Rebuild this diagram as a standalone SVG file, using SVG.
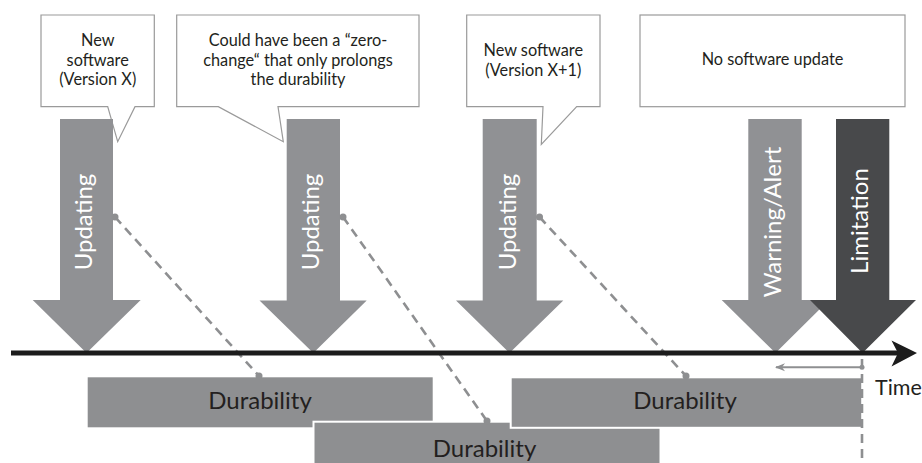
<svg xmlns="http://www.w3.org/2000/svg" width="922" height="463" viewBox="0 0 922 463">
<defs>
<style>
.callout{fill:#fff;stroke:#9a9a9a;stroke-width:1.2}
.ctext{font-family:Lato,"Open Sans",sans-serif;font-size:16.3px;fill:#231f20;text-anchor:middle}
.arrow{fill:#909194}
.dark{fill:#48494b}
.alabel{font-family:Lato,"Open Sans",sans-serif;font-size:24px;fill:#fff;text-anchor:middle}
.dur{fill:#8e8f91}
.dur2{fill:#8e8f91;stroke:#fff;stroke-width:2}
.dtext{font-family:Lato,"Open Sans",sans-serif;font-size:24px;fill:#231f20;text-anchor:middle}
.dash{fill:none;stroke:#8e8f91;stroke-width:2.6;stroke-dasharray:9 6}
.dot{fill:#8e8f91}
</style>
<marker id="lefthead" viewBox="0 0 10 10" refX="9" refY="5" markerWidth="10" markerHeight="10" markerUnits="userSpaceOnUse" orient="auto">
<path d="M0,1 L10,5 L0,9 L3,5 Z" fill="#8e8f91"/>
</marker>
</defs>

<g id="callout1">
<path class="callout" d="M41,15 H154.3 V106.7 H135 L117.7,141.7 L107.7,106.7 H41 Z"/>
<text class="ctext" x="97.7" y="46.3">New</text>
<text class="ctext" x="97.7" y="65.8">software</text>
<text class="ctext" x="97.7" y="85.3">(Version X)</text>
</g>
<g id="callout2">
<path class="callout" d="M176.7,15 H419 V106.7 H278 L283.3,141.7 L218.3,106.7 H176.7 Z"/>
<text class="ctext" x="298" y="46.3">Could have been a “zero-</text>
<text class="ctext" x="298" y="65.8">change“ that only prolongs</text>
<text class="ctext" x="298" y="85.3">the durability</text>
</g>
<g id="callout3">
<path class="callout" d="M466.7,15 H600 V106.7 H576.7 L541.3,144.5 L543,106.7 H466.7 Z"/>
<text class="ctext" x="533.3" y="56.3">New software</text>
<text class="ctext" x="533.3" y="75.8">(Version X+1)</text>
</g>
<g id="callout4">
<rect class="callout" x="640" y="15" width="265" height="91.7"/>
<text class="ctext" x="772.5" y="65">No software update</text>
</g>

<g id="durability1">
<rect class="dur" x="87.7" y="377.3" width="345" height="50"/>
<text class="dtext" x="260" y="409.3">Durability</text>
</g>
<g id="durability2">
<rect class="dur2" x="313.5" y="421.7" width="347" height="45"/>
<text class="dtext" x="484.5" y="456.5">Durability</text>
</g>
<g id="durability3">
<rect class="dur2" x="510.7" y="377.3" width="351.5" height="50.5"/>
<text class="dtext" x="685" y="409.3">Durability</text>
</g>

<g id="update1">
<path class="arrow" d="M60,119 H113 V300 H140.7 L86.5,353 L32.7,300 H60 Z"/>
<text class="alabel" transform="translate(92,222) rotate(-90)">Updating</text>
</g>
<g id="update2">
<path class="arrow" d="M286.7,119 H340 V300.5 H366.7 L313.3,353 L259.5,300.5 H286.7 Z"/>
<text class="alabel" transform="translate(319,222) rotate(-90)">Updating</text>
</g>
<g id="update3">
<path class="arrow" d="M482.7,119 H536.7 V300.5 H563.3 L509.5,353 L456,300.5 H482.7 Z"/>
<text class="alabel" transform="translate(515.5,222) rotate(-90)">Updating</text>
</g>
<g id="warning">
<path class="arrow" d="M748.3,119 H801.7 V300 H829 L775.5,353 L721.7,300 H748.3 Z"/>
<text class="alabel" transform="translate(781,222) rotate(-90)">Warning/Alert</text>
</g>
<g id="limitation">
<path class="dark" d="M836,119 H889.3 V300 H916 L862.5,353 L810,300 H836 Z"/>
<text class="alabel" transform="translate(868.3,221) rotate(-90)">Limitation</text>
</g>

<g id="connectors">
<line class="dash" x1="115" y1="217" x2="259" y2="376"/>
<circle class="dot" cx="115" cy="217" r="3.5"/>
<circle class="dot" cx="259" cy="376" r="3.5"/>
<line class="dash" x1="343" y1="217" x2="487" y2="421"/>
<circle class="dot" cx="343" cy="217" r="3.5"/>
<circle class="dot" cx="487" cy="421" r="3.5"/>
<line class="dash" x1="539.5" y1="217" x2="686" y2="376"/>
<circle class="dot" cx="539.5" cy="217" r="3.5"/>
<circle class="dot" cx="686" cy="376" r="3.5"/>
<line class="dash" x1="862" y1="359" x2="862" y2="463"/>
<line x1="862" y1="367.3" x2="776" y2="367.3" stroke="#8e8f91" stroke-width="2" marker-end="url(#lefthead)"/>
<circle class="dot" cx="862" cy="367.3" r="2.5"/>
</g>

<g id="timeline">
<line x1="11" y1="353" x2="900" y2="353" stroke="#1c1c1c" stroke-width="5"/>
<path d="M917,353 L891.5,340.5 L898,353 L891.5,366.5 Z" fill="#1c1c1c"/>
<text x="875" y="395" font-family="Lato,'Open Sans',sans-serif" font-size="21.5px" fill="#231f20">Time</text>
</g>
</svg>
